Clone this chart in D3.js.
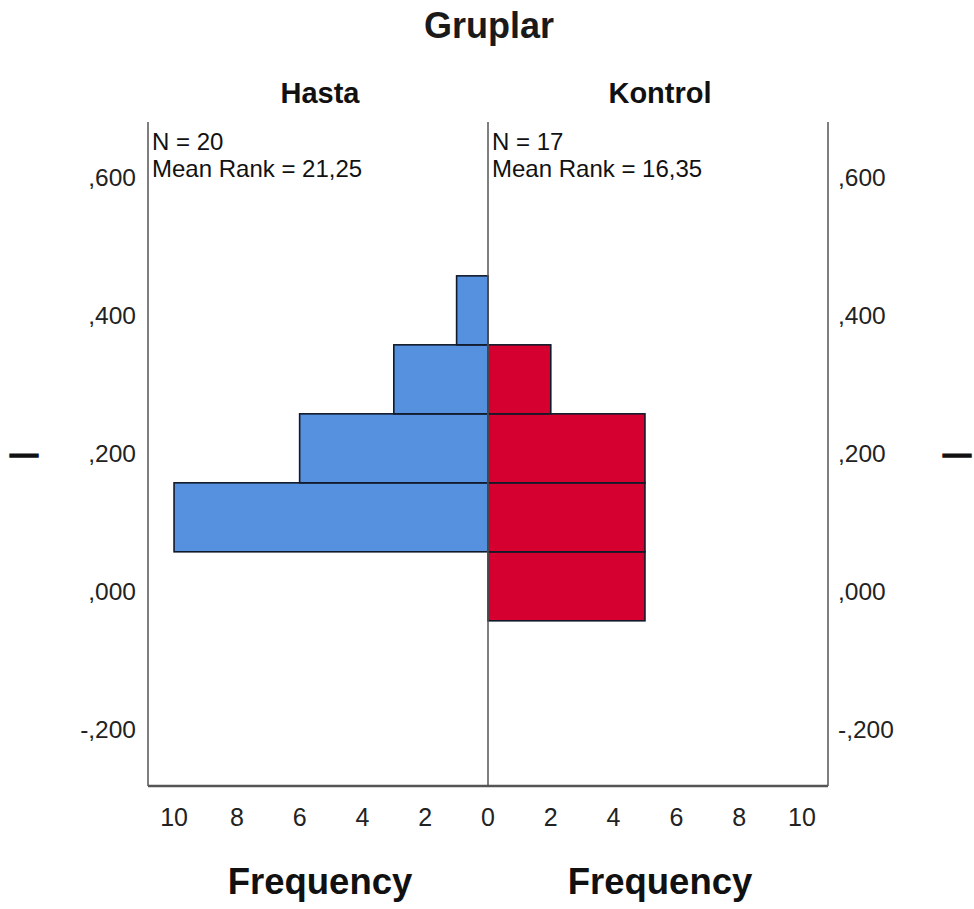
<!DOCTYPE html>
<html><head><meta charset="utf-8">
<script src="https://cdn.jsdelivr.net/npm/d3@7"></script>
<style>body{margin:0;background:#fff}svg{display:block}text{font-family:"Liberation Sans",Arial,sans-serif}</style>
</head><body><svg id="c" width="974" height="909"></svg>
<script>
const binLower = [-0.045, 0.055, 0.155, 0.255, 0.355];
const binUpper = [0.055, 0.155, 0.255, 0.355, 0.455];
const hastaCounts = [0, 10, 6, 3, 1];
const kontrolCounts = [5, 5, 5, 2, 0];
const groups = ["Hasta", "Kontrol"];
const groupStats = ["N = 20|Mean Rank = 21,25", "N = 17|Mean Rank = 16,35"];
const yTicks = [-0.2, 0, 0.2, 0.4, 0.6];
const xTicks = [0, 2, 4, 6, 8, 10];
const colors = ["#5591de", "#d50030"];

const svg = d3.select("#c");
const y = d3.scaleLinear().domain([-0.283, 0.678]).range([785, 122]);
const xL = d3.scaleLinear().domain([0, 10.83]).range([488, 148]);
const xR = d3.scaleLinear().domain([0, 10.83]).range([488, 828]);
const fmtY = v => { const s = d3.format(".3f")(Math.abs(v)).replace("0.", ","); return (v < 0 ? "-" : "") + s; };

// title
svg.append("text").attr("x", 489).attr("y", 38).attr("text-anchor", "middle")
  .attr("font-size", 36).attr("font-weight", "bold").attr("fill", "#1a1a1a").text("Gruplar");
[xL, xR].forEach((sc, i) => {
  svg.append("text").attr("x", (sc(0) + sc(10.83)) / 2 + 2).attr("y", 103).attr("text-anchor", "middle")
    .attr("font-size", 29).attr("font-weight", "bold").attr("fill", "#111").text(groups[i]);
});

// bars
const drawBars = (counts, sc, col) => {
  svg.append("g").selectAll("rect").data(counts.map((c, i) => ({c, lo: binLower[i], hi: binUpper[i]})).filter(d => d.c > 0))
    .join("rect")
    .attr("x", d => Math.min(sc(0), sc(d.c)))
    .attr("width", d => Math.abs(sc(d.c) - sc(0)))
    .attr("y", d => y(d.hi)).attr("height", d => y(d.lo) - y(d.hi))
    .attr("fill", col).attr("stroke", "#111a2a").attr("stroke-width", 1.6);
};
drawBars(hastaCounts, xL, colors[0]);
drawBars(kontrolCounts, xR, colors[1]);

// frame lines
const ax = svg.append("g").attr("stroke", "#555");
[148, 488, 828].forEach(xv => ax.append("line").attr("x1", xv).attr("x2", xv).attr("y1", 122).attr("y2", 786).attr("stroke-width", 1.5));
ax.append("line").attr("x1", 148).attr("x2", 828).attr("y1", 786).attr("y2", 786).attr("stroke-width", 2.5);

// y axis labels
yTicks.forEach(v => {
  svg.append("text").attr("x", 136).attr("y", y(v) + 10).attr("text-anchor", "end").attr("font-size", 24.5).attr("fill", "#222").text(fmtY(v));
  svg.append("text").attr("x", 838).attr("y", y(v) + 10).attr("text-anchor", "start").attr("font-size", 24.5).attr("fill", "#222").text(fmtY(v));
});
// axis title dashes
[24, 957].forEach(xv => {
  svg.append("text").attr("x", xv).attr("y", 463).attr("text-anchor", "middle").attr("font-size", 28).attr("font-weight", "bold")
    .attr("fill", "#111").attr("stroke", "#111").attr("stroke-width", 1.4).text("—");
});

// x tick labels
[xL, xR].forEach((sc, i) => {
  xTicks.forEach(v => {
    if (i === 1 && v === 0) return;
    svg.append("text").attr("x", sc(v)).attr("y", 826).attr("text-anchor", "middle").attr("font-size", 25).attr("fill", "#222").text(v);
  });
  svg.append("text").attr("x", (sc(0) + sc(10.83)) / 2 + 2).attr("y", 894).attr("text-anchor", "middle")
    .attr("font-size", 36.5).attr("font-weight", "bold").attr("fill", "#111").text("Frequency");
  const lines = groupStats[i].split("|");
  lines.forEach((t, j) => {
    svg.append("text").attr("x", Math.min(sc(0), sc(10.83)) + 4).attr("y", 150 + j * 27)
      .attr("font-size", 24).attr("fill", "#111").text(t);
  });
});
</script></body></html>
